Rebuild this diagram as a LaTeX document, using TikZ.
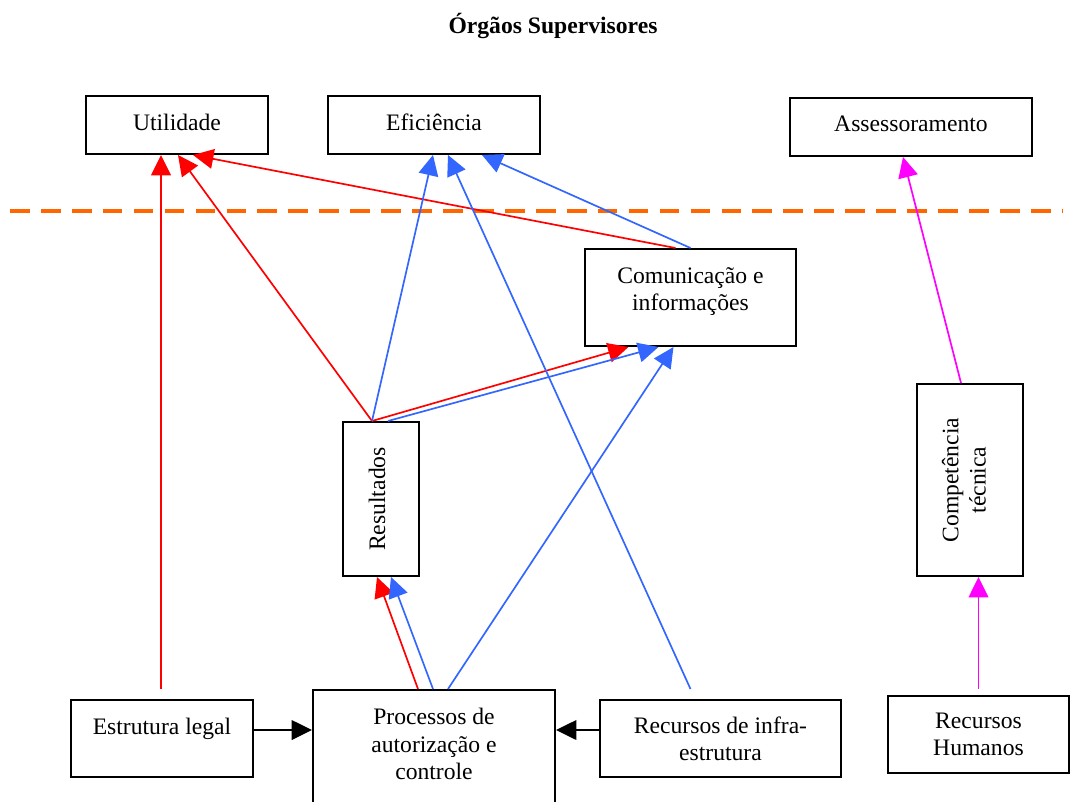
\documentclass[tikz,border=0pt]{standalone}
\usepackage{fontspec}
\setmainfont{Liberation Serif}
\usepackage{tikz}
\usetikzlibrary{arrows.meta,calc}
\definecolor{azul}{HTML}{3366FF}
\definecolor{laranja}{HTML}{FF6600}
\definecolor{rosa}{HTML}{FF00FF}
\newcommand{\texto}{\fontsize{16.8}{19.5}\selectfont}

\begin{document}
\begin{tikzpicture}[x=0.025cm,y=-0.025cm,
        caixa/.style={draw, line width=1.4pt, inner sep=0pt, align=center, font=\texto},
        seta/.style={-{Triangle[length=14.5pt,width=14pt]}, line width=1.2pt}]
            \useasboundingbox (0,0) rectangle (1072,802);
            \node[font=\bfseries\texto] (titulo) at (553,26) {Órgãos Supervisores};
            % caixas de cima
            \node[caixa, minimum width=4.55cm, minimum height=1.45cm, text depth=4.3pt] (util) at (177,125) {Utilidade};
            \node[caixa, minimum width=5.3cm, minimum height=1.45cm, text depth=4.3pt] (efic) at (434,125) {Eficiência};
            \node[caixa, minimum width=6.05cm, minimum height=1.45cm, text depth=4.3pt] (asses) at (911,127) {Assessoramento};
            \node[caixa, minimum width=5.275cm, minimum height=2.425cm, text depth=12.2pt] (comun) at (690.5,297.5) {Comunicação e\\informações};
            % caixas do meio
            \node[caixa, minimum width=1.9cm, minimum height=3.85cm] (res) at (381,499) {\rotatebox{90}{Resultados}\hspace*{5.6pt}};
            \node[caixa, minimum width=2.65cm, minimum height=4.8cm] (comp) at (970,480)
                {\rotatebox{90}{\begin{tabular}{@{}c@{}}Competência\\técnica\end{tabular}}\hspace*{5pt}};
            % caixas de baixo
            \node[caixa, minimum width=4.55cm, minimum height=1.925cm, text depth=17.9pt] (estr) at (162,738.5) {Estrutura legal};
            \node[caixa, minimum width=6.05cm, minimum height=3cm, text depth=8.6pt] (proc) at (434,750) {Processos de\\autorização e\\controle};
            \node[caixa, minimum width=6.025cm, minimum height=1.925cm] (infra) at (720.5,738.5) {Recursos de infra-\\estrutura};
            \node[caixa, minimum width=4.525cm, minimum height=1.925cm] (rh) at (978.5,734.5) {Recursos\\Humanos};
            % linha tracejada
            \coordinate (tr_a) at (10,211);
            \coordinate (tr_b) at (1062,211);
            \draw[laranja, line width=2.8pt, dash pattern=on 14pt off 8pt] (tr_a) -- (tr_b);
            % setas vermelhas
            \draw[seta, red] ($(estr.north)+(-1,-10)$) -- ($(util.south)+(-16,0)$);
            \draw[seta, red] ($(res.north)+(-9,0)$) -- ($(util.south)+(1,0)$);
            \draw[seta, red] ($(comun.north)+(-15,0)$) -- ($(util.south)+(16,0)$);
            \draw[seta, red] ($(res.north)+(-9,0)$) -- ($(comun.south)+(-62,0)$);
            \draw[seta, red] ($(proc.north)+(-16,0)$) -- ($(res.south)+(-4,0)$);
            % setas azuis
            \draw[seta, azul] ($(res.north)+(-9,0)$) -- ($(efic.south)+(-1,0)$);
            \draw[seta, azul] ($(infra.north)+(-30,-10)$) -- ($(efic.south)+(14,0)$);
            \draw[seta, azul] (comun.north) -- ($(efic.south)+(48,0)$);
            \draw[seta, azul] ($(res.north)+(7,0)$) -- ($(comun.south)+(-32,0)$);
            \draw[seta, azul] ($(proc.north)+(-1,0)$) -- ($(res.south)+(10,0)$);
            \draw[seta, azul] ($(proc.north)+(14,0)$) -- ($(comun.south)+(-17,0)$);
            % setas magenta
            \draw[seta, rosa] ($(comp.north)+(-9,0)$) -- ($(asses.south)+(-8,0)$);
            \draw[seta, rosa] ($(rh.north)+(0,-6)$) -- ($(comp.south)+(8.5,0)$);
            % setas pretas
            \draw[seta] ($(estr.east)+(0,-8.5)$) -- ($(proc.west)+(0,-20)$);
            \draw[seta] ($(infra.west)+(0,-8.5)$) -- ($(proc.east)+(0,-20)$);
        \end{tikzpicture}
\end{document}
